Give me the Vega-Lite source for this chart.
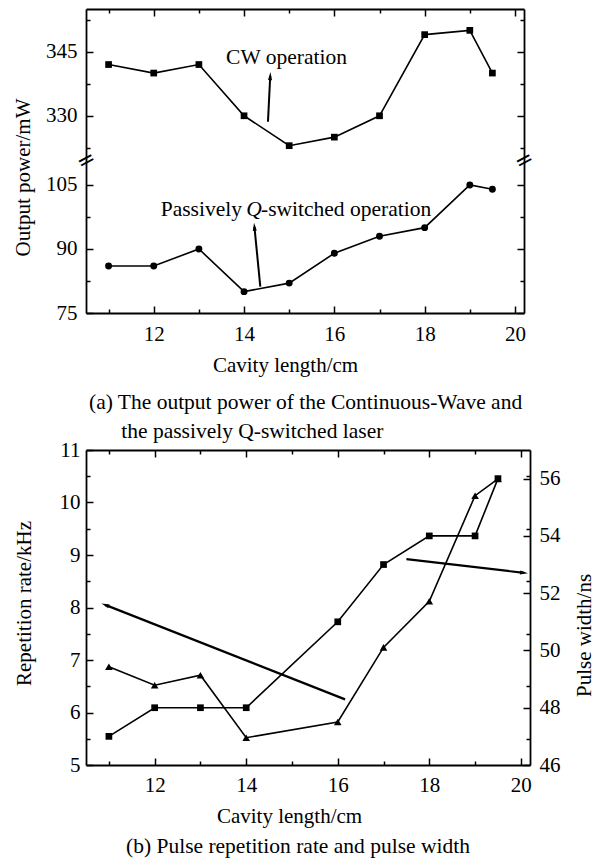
{
  "$schema": "https://vega.github.io/schema/vega-lite/v6.json",
  "padding": {"left": 12, "top": 8, "right": 5, "bottom": 2},
  "background": "white",
  "datasets": {
    "cw": [{"len":11,"power":342},{"len":12,"power":340},{"len":13,"power":342},{"len":14,"power":330},{"len":15,"power":323},{"len":16,"power":325},{"len":17,"power":330},{"len":18,"power":349},{"len":19,"power":350},{"len":19.5,"power":340}],
    "qs": [{"len":11,"power":86},{"len":12,"power":86},{"len":13,"power":90},{"len":14,"power":80},{"len":15,"power":82},{"len":16,"power":89},{"len":17,"power":93},{"len":18,"power":95},{"len":19,"power":105},{"len":19.5,"power":104}],
    "rep": [{"len":11,"rate":6.87},{"len":12,"rate":6.52},{"len":13,"rate":6.71},{"len":14,"rate":5.52},{"len":16,"rate":5.82},{"len":17,"rate":7.24},{"len":18,"rate":8.12},{"len":19,"rate":10.13},{"len":19.5,"rate":10.45}],
    "pw": [{"len":11,"width":47},{"len":12,"width":48},{"len":13,"width":48},{"len":14,"width":48},{"len":16,"width":51},{"len":17,"width":53},{"len":18,"width":54},{"len":19,"width":54},{"len":19.5,"width":56}],
    "arrA": [{"name":"cw","x0":14.53,"y0":328.6,"x1":14.58,"y1":339.3},{"name":"qs","x0":14.36,"y0":81.2,"x1":14.23,"y1":95.2}],
    "arrB": [{"name":"rep","x0":16.16,"y0":6.25,"x1":10.92,"y1":8.05},{"name":"pw","x0":17.5,"y0":8.92,"x1":20.07,"y1":8.66}],
    "labA": [{"name":"cw","label":"CW operation","x":14.94,"y":343.5},{"name":"pre","label":"Passively","x":14.22,"y":99.1},{"name":"q","label":"Q","x":14.22,"y":99.1},{"name":"post","label":"-switched operation","x":14.22,"y":99.1}],
    "breaks": [{"label":"=","x":10.5,"y":200},{"label":"=","x":20.2,"y":200}]
  },
  "vconcat": [
    {
      "width": 438,
      "height": 304,
      "title": {"text": "(a) The output power of the Continuous-Wave and", "subtitle": "\u200b\u00a0\u00a0\u00a0\u00a0\u00a0\u00a0the passively Q-switched laser", "subtitlePadding": 7, "orient": "bottom", "anchor": "start", "frame": "group", "dx": 3, "offset": 17},
      "layer": [
        {
          "data": {"name": "cw"},
          "mark": {"type": "line", "color": "black", "strokeWidth": 1.6, "point": {"shape": "square", "size": 45, "filled": true, "color": "black", "opacity": 1}},
          "encoding": {
            "x": {"field": "len", "type": "quantitative", "scale": {"domain": [10.5, 20.2], "nice": false, "zero": false},
                  "axis": {"orient": "bottom", "values": [12,14,16,18,20], "tickSize": -7, "labelPadding": 17, "title": "Cavity length/cm", "titleX": 199, "titleY": 52, "titleBaseline": "middle", "titleAlign": "center"}},
            "y": {"field": "power", "type": "quantitative", "scale": {"domain": [75, 110.8, 319.6, 355], "range": [304, 151.2, 151.2, 0], "nice": false, "zero": false},
                  "axis": {"orient": "left", "values": [75,90,105,330,345], "format": "d", "tickSize": -7, "labelPadding": 16, "title": "Output power/mW", "titleX": -63, "titleY": 168, "titleAngle": 270, "titleBaseline": "middle", "titleAlign": "center"}}
          }
        },
        {
          "data": {"name": "qs"},
          "mark": {"type": "line", "color": "black", "strokeWidth": 1.6, "point": {"shape": "circle", "size": 48, "filled": true, "color": "black", "opacity": 1}},
          "encoding": {
            "x": {"field": "len", "type": "quantitative", "scale": {"domain": [10.5, 20.2], "nice": false, "zero": false},
                  "axis": {"orient": "top", "values": [12,14,16,18,20], "labels": false, "tickSize": -7, "title": null}},
            "y": {"field": "power", "type": "quantitative", "scale": {"domain": [75, 110.8, 319.6, 355], "range": [304, 151.2, 151.2, 0], "nice": false, "zero": false},
                  "axis": {"orient": "right", "values": [75,90,105,330,345], "labels": false, "tickSize": -7, "title": null}}
          }
        },
        {
          "data": {"name": "arrA"},
          "mark": {"type": "rule", "color": "black", "strokeWidth": 2},
          "encoding": {
            "x": {"field": "x0", "type": "quantitative", "scale": {"domain": [10.5, 20.2], "nice": false, "zero": false},
                  "axis": {"orient": "bottom", "values": [11,13,15,17,19], "labels": false, "domain": false, "tickSize": -4, "title": null}},
            "y": {"field": "y0", "type": "quantitative", "scale": {"domain": [75, 110.8, 319.6, 355], "range": [304, 151.2, 151.2, 0], "nice": false, "zero": false},
                  "axis": {"orient": "left", "values": [82.5,97.5,322.5,337.5,352.5], "labels": false, "domain": false, "tickSize": -4, "title": null}},
            "x2": {"field": "x1"},
            "y2": {"field": "y1"}
          }
        },
        {
          "data": {"name": "arrA"},
          "transform": [{"filter": "datum.name === 'cw'"}],
          "mark": {"type": "point", "shape": "M0,-1L0.5,1L-0.5,1Z", "size": 64, "filled": true, "color": "black", "opacity": 1, "angle": 2.8},
          "encoding": {
            "x": {"field": "x1", "type": "quantitative", "scale": {"domain": [10.5, 20.2], "nice": false, "zero": false},
                  "axis": {"orient": "top", "values": [11,13,15,17,19], "labels": false, "domain": false, "tickSize": -4, "title": null}},
            "y": {"field": "y1", "type": "quantitative", "scale": {"domain": [75, 110.8, 319.6, 355], "range": [304, 151.2, 151.2, 0], "nice": false, "zero": false},
                  "axis": {"orient": "right", "values": [82.5,97.5,322.5,337.5,352.5], "labels": false, "domain": false, "tickSize": -4, "title": null}}
          }
        },
        {
          "data": {"name": "arrA"},
          "transform": [{"filter": "datum.name === 'qs'"}],
          "mark": {"type": "point", "shape": "M0,-1L0.5,1L-0.5,1Z", "size": 64, "filled": true, "color": "black", "opacity": 1, "angle": -5.6},
          "encoding": {
            "x": {"field": "x1", "type": "quantitative", "scale": {"domain": [10.5, 20.2], "nice": false, "zero": false}, "axis": null},
            "y": {"field": "y1", "type": "quantitative", "scale": {"domain": [75, 110.8, 319.6, 355], "range": [304, 151.2, 151.2, 0], "nice": false, "zero": false}, "axis": null}
          }
        },
        {
          "data": {"name": "labA"},
          "transform": [{"filter": "datum.name === 'cw'"}],
          "mark": {"type": "text", "font": "Liberation Serif", "fontSize": 21.5, "color": "black", "align": "center", "baseline": "middle"},
          "encoding": {
            "x": {"field": "x", "type": "quantitative", "scale": {"domain": [10.5, 20.2], "nice": false, "zero": false}, "axis": null},
            "y": {"field": "y", "type": "quantitative", "scale": {"domain": [75, 110.8, 319.6, 355], "range": [304, 151.2, 151.2, 0], "nice": false, "zero": false}, "axis": null},
            "text": {"field": "label"}
          }
        },
        {
          "data": {"name": "labA"},
          "transform": [{"filter": "datum.name === 'pre'"}],
          "mark": {"type": "text", "font": "Liberation Serif", "fontSize": 21.5, "color": "black", "align": "right", "baseline": "middle", "dx": -12},
          "encoding": {
            "x": {"field": "x", "type": "quantitative", "scale": {"domain": [10.5, 20.2], "nice": false, "zero": false}, "axis": null},
            "y": {"field": "y", "type": "quantitative", "scale": {"domain": [75, 110.8, 319.6, 355], "range": [304, 151.2, 151.2, 0], "nice": false, "zero": false}, "axis": null},
            "text": {"field": "label"}
          }
        },
        {
          "data": {"name": "labA"},
          "transform": [{"filter": "datum.name === 'q'"}],
          "mark": {"type": "text", "font": "Liberation Serif", "fontSize": 21.5, "fontStyle": "italic", "color": "black", "align": "center", "baseline": "middle"},
          "encoding": {
            "x": {"field": "x", "type": "quantitative", "scale": {"domain": [10.5, 20.2], "nice": false, "zero": false}, "axis": null},
            "y": {"field": "y", "type": "quantitative", "scale": {"domain": [75, 110.8, 319.6, 355], "range": [304, 151.2, 151.2, 0], "nice": false, "zero": false}, "axis": null},
            "text": {"field": "label"}
          }
        },
        {
          "data": {"name": "labA"},
          "transform": [{"filter": "datum.name === 'post'"}],
          "mark": {"type": "text", "font": "Liberation Serif", "fontSize": 21.5, "color": "black", "align": "left", "baseline": "middle", "dx": 7},
          "encoding": {
            "x": {"field": "x", "type": "quantitative", "scale": {"domain": [10.5, 20.2], "nice": false, "zero": false}, "axis": null},
            "y": {"field": "y", "type": "quantitative", "scale": {"domain": [75, 110.8, 319.6, 355], "range": [304, 151.2, 151.2, 0], "nice": false, "zero": false}, "axis": null},
            "text": {"field": "label"}
          }
        },
        {
          "data": {"name": "breaks"},
          "mark": {"type": "text", "font": "DejaVu Sans", "fontSize": 22, "color": "black", "align": "center", "baseline": "middle", "angle": -28},
          "encoding": {
            "x": {"field": "x", "type": "quantitative", "scale": {"domain": [10.5, 20.2], "nice": false, "zero": false}, "axis": null},
            "y": {"field": "y", "type": "quantitative", "scale": {"domain": [75, 110.8, 319.6, 355], "range": [304, 151.2, 151.2, 0], "nice": false, "zero": false}, "axis": null},
            "text": {"field": "label"}
          }
        }
      ],
      "resolve": {"scale": {"x": "independent", "y": "independent"}}
    },
    {
      "width": 444,
      "height": 315,
      "title": {"text": "(b) Pulse repetition rate and pulse width", "orient": "bottom", "anchor": "start", "frame": "group", "dx": 40, "offset": 10},
      "layer": [
        {
          "data": {"name": "rep"},
          "mark": {"type": "line", "color": "black", "strokeWidth": 1.6, "point": {"shape": "triangle-up", "size": 58, "filled": true, "color": "black", "opacity": 1}},
          "encoding": {
            "x": {"field": "len", "type": "quantitative", "scale": {"domain": [10.5, 20.2], "nice": false, "zero": false},
                  "axis": {"orient": "bottom", "values": [12,14,16,18,20], "tickSize": -7, "labelPadding": 16, "title": "Cavity length/cm", "titleX": 203, "titleY": 51, "titleBaseline": "middle", "titleAlign": "center"}},
            "y": {"field": "rate", "type": "quantitative", "scale": {"domain": [5, 11], "nice": false, "zero": false},
                  "axis": {"orient": "left", "values": [5,6,7,8,9,10,11], "format": "d", "tickSize": -7, "labelPadding": 13, "title": "Repetition rate/kHz", "titleX": -62, "titleY": 153, "titleAngle": 270, "titleBaseline": "middle", "titleAlign": "center"}}
          }
        },
        {
          "data": {"name": "pw"},
          "mark": {"type": "line", "color": "black", "strokeWidth": 1.6, "point": {"shape": "square", "size": 45, "filled": true, "color": "black", "opacity": 1}},
          "encoding": {
            "x": {"field": "len", "type": "quantitative", "scale": {"domain": [10.5, 20.2], "nice": false, "zero": false},
                  "axis": {"orient": "top", "values": [12,14,16,18,20], "labels": false, "tickSize": -7, "title": null}},
            "y": {"field": "width", "type": "quantitative", "scale": {"domain": [46, 57], "nice": false, "zero": false},
                  "axis": {"orient": "right", "values": [46,48,50,52,54,56], "format": "d", "tickSize": -7, "labelPadding": 16, "title": "Pulse width/ns", "titleX": 54, "titleY": 185, "titleAngle": 270, "titleBaseline": "middle", "titleAlign": "center"}}
          }
        },
        {
          "data": {"name": "arrB"},
          "mark": {"type": "rule", "color": "black", "strokeWidth": 2.2},
          "encoding": {
            "x": {"field": "x0", "type": "quantitative", "scale": {"domain": [10.5, 20.2], "nice": false, "zero": false},
                  "axis": {"orient": "bottom", "values": [11,13,15,17,19], "labels": false, "domain": false, "tickSize": -4, "title": null}},
            "y": {"field": "y0", "type": "quantitative", "scale": {"domain": [5, 11], "nice": false, "zero": false},
                  "axis": {"orient": "left", "values": [5.5,6.5,7.5,8.5,9.5,10.5], "labels": false, "domain": false, "tickSize": -4, "title": null}},
            "x2": {"field": "x1"},
            "y2": {"field": "y1"}
          }
        },
        {
          "data": {"name": "arrB"},
          "transform": [{"filter": "datum.name === 'rep'"}],
          "mark": {"type": "point", "shape": "M0,-1L0.5,1L-0.5,1Z", "size": 64, "filled": true, "color": "black", "opacity": 1, "angle": -68.5},
          "encoding": {
            "x": {"field": "x1", "type": "quantitative", "scale": {"domain": [10.5, 20.2], "nice": false, "zero": false},
                  "axis": {"orient": "top", "values": [11,13,15,17,19], "labels": false, "domain": false, "tickSize": -4, "title": null}},
            "y": {"field": "y1", "type": "quantitative", "scale": {"domain": [5, 11], "nice": false, "zero": false},
                  "axis": {"orient": "right", "values": [5.5,6.5,7.5,8.5,9.5,10.5], "labels": false, "domain": false, "tickSize": -4, "title": null}}
          }
        },
        {
          "data": {"name": "arrB"},
          "transform": [{"filter": "datum.name === 'pw'"}],
          "mark": {"type": "point", "shape": "M0,-1L0.5,1L-0.5,1Z", "size": 64, "filled": true, "color": "black", "opacity": 1, "angle": 96.6},
          "encoding": {
            "x": {"field": "x1", "type": "quantitative", "scale": {"domain": [10.5, 20.2], "nice": false, "zero": false}, "axis": null},
            "y": {"field": "y1", "type": "quantitative", "scale": {"domain": [5, 11], "nice": false, "zero": false}, "axis": null}
          }
        }
      ],
      "resolve": {"scale": {"x": "independent", "y": "independent"}}
    }
  ],
  "spacing": -3,
  "config": {
    "view": {"stroke": null},
    "font": "Liberation Serif",
    "axis": {"labelFont": "Liberation Serif", "labelFontSize": 21, "labelColor": "black", "titleFont": "Liberation Serif", "titleFontSize": 21, "titleFontWeight": "normal", "titleColor": "black", "domainColor": "black", "domainWidth": 1.8, "tickColor": "black", "tickWidth": 1.5, "grid": false, "labelFlush": false, "labelOverlap": false},
    "title": {"font": "Liberation Serif", "fontSize": 21.5, "fontWeight": "normal", "color": "black", "subtitleFont": "Liberation Serif", "subtitleFontSize": 21.5, "subtitleColor": "black"}
  }
}
